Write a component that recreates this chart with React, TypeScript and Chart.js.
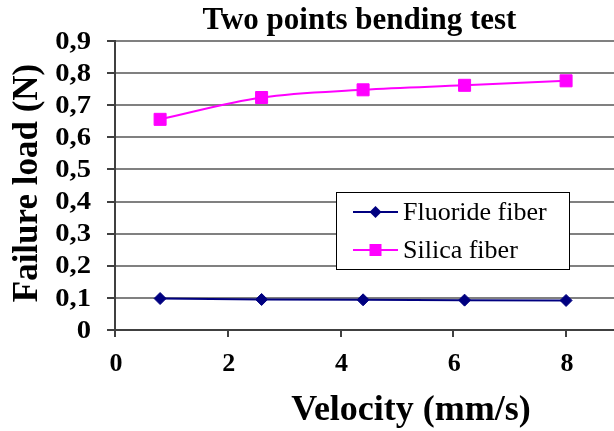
import React, { useEffect, useRef } from "react";
import { Chart, registerables } from "chart.js";

Chart.register(...registerables);

const chartTitle = "Two points bending test";
const xAxisTitle = "Velocity (mm/s)";
const yAxisTitle = "Failure load (N)";

const velocities = [0.8, 2.6, 4.4, 6.2, 8.0];
const fluorideLoads = [0.098, 0.095, 0.094, 0.093, 0.092];
const silicaLoads = [0.656, 0.724, 0.748, 0.762, 0.776];

const seriesNames = ["Fluoride fiber", "Silica fiber"];

const xTicks = [0, 2, 4, 6, 8];
const yTicks = [0, 0.1, 0.2, 0.3, 0.4, 0.5, 0.6, 0.7, 0.8, 0.9];

const SERIF = "'Liberation Serif', 'Times New Roman', serif";

const fmtY = (v: number) => (v === 0 ? "0" : v.toFixed(1).replace(".", ","));

const decorPlugin = {
  id: "decor",
  afterDraw(chart: any) {
    const ctx = chart.ctx as CanvasRenderingContext2D;
    const area = chart.chartArea;
    const xs = chart.scales.x;
    const ys = chart.scales.y;
    ctx.save();
    ctx.fillStyle = "#000";

    // tick labels
    ctx.font = `bold 26px ${SERIF}`;
    ctx.textAlign = "right";
    ctx.textBaseline = "middle";
    yTicks.forEach((v) => {
      ctx.save();
      ctx.translate(91, ys.getPixelForValue(v) + 1);
      ctx.scale(1.1, 1);
      ctx.fillText(fmtY(v), 0, 0);
      ctx.restore();
    });
    ctx.textAlign = "center";
    ctx.textBaseline = "alphabetic";
    xTicks.forEach((v) => {
      ctx.fillText(String(v), xs.getPixelForValue(v) + 1, 371);
    });

    // main title
    ctx.font = `bold 31px ${SERIF}`;
    ctx.textAlign = "center";
    ctx.textBaseline = "alphabetic";
    ctx.fillText(chartTitle, (area.left + area.right) / 2 - 5, 29);
    // x title
    ctx.font = `bold 36px ${SERIF}`;
    ctx.fillText(xAxisTitle, 411, 420);
    // y title
    ctx.save();
    ctx.translate(37, 183);
    ctx.rotate(-Math.PI / 2);
    ctx.font = `bold 35px ${SERIF}`;
    ctx.fillText(yAxisTitle, 0, 0);
    ctx.restore();

    // legend box
    const bx = 336, by = 192, bw = 233, bh = 77;
    ctx.fillStyle = "#fff";
    ctx.fillRect(bx, by, bw, bh);
    ctx.strokeStyle = "#000";
    ctx.lineWidth = 1;
    ctx.strokeRect(bx + 0.5, by + 0.5, bw, bh);
    const rows = [212, 250];
    chart.data.datasets.forEach((ds: any, i: number) => {
      const y = rows[i];
      ctx.strokeStyle = ds.borderColor;
      ctx.lineWidth = 2;
      ctx.beginPath();
      ctx.moveTo(353, y);
      ctx.lineTo(398, y);
      ctx.stroke();
      ctx.fillStyle = ds.pointBackgroundColor;
      if (ds.pointStyle === "rect") {
        ctx.fillRect(375.5 - 6, y - 6, 12, 12);
      } else {
        ctx.beginPath();
        ctx.moveTo(375.5, y - 6);
        ctx.lineTo(381.5, y);
        ctx.lineTo(375.5, y + 6);
        ctx.lineTo(369.5, y);
        ctx.closePath();
        ctx.fill();
      }
      ctx.fillStyle = "#000";
      ctx.font = `26px ${SERIF}`;
      ctx.textAlign = "left";
      ctx.textBaseline = "middle";
      ctx.fillText(ds.label, 403, y + 1);
    });
    ctx.restore();
  },
};

export default function App() {
  const ref = useRef<HTMLCanvasElement | null>(null);
  useEffect(() => {
    if (!ref.current) return;
    const chart = new Chart(ref.current, {
      type: "line",
      data: {
        datasets: [
          {
            label: seriesNames[0],
            data: velocities.map((x, i) => ({ x, y: fluorideLoads[i] })),
            borderColor: "#000080",
            backgroundColor: "#000080",
            pointBackgroundColor: "#000080",
            pointBorderColor: "#000080",
            pointStyle: "rectRot",
            pointRadius: 6,
            pointBorderWidth: 1,
            borderWidth: 2,
            tension: 0,
          },
          {
            label: seriesNames[1],
            data: velocities.map((x, i) => ({ x, y: silicaLoads[i] })),
            borderColor: "#FF00FF",
            backgroundColor: "#FF00FF",
            pointBackgroundColor: "#FF00FF",
            pointBorderColor: "#FF00FF",
            pointStyle: "rect",
            pointRadius: 8.5,
            pointBorderWidth: 1,
            borderWidth: 2,
            tension: 0.35,
          },
        ],
      },
      options: {
        animation: false,
        responsive: false,
        devicePixelRatio: 1,
        layout: { autoPadding: false, padding: { top: 41, right: 0, left: 0, bottom: 0 } },
        plugins: {
          legend: { display: false },
          title: { display: false },
          tooltip: { enabled: false },
        },
        scales: {
          x: {
            type: "linear",
            min: 0,
            max: 8.85,
            afterBuildTicks: (s: any) => {
              s.ticks = xTicks.map((v) => ({ value: v }));
            },
            afterFit: (s: any) => {
              s.height = 101;
              s.paddingLeft = 0;
              s.paddingRight = 0;
            },
            grid: {
              drawOnChartArea: false,
              drawTicks: true,
              tickLength: 7,
              color: "#404040",
              lineWidth: 2,
            },
            border: { color: "#404040", width: 2 },
            ticks: { display: false },
          },
          y: {
            type: "linear",
            min: 0,
            max: 0.9,
            afterBuildTicks: (s: any) => {
              s.ticks = yTicks.map((v) => ({ value: v }));
            },
            afterFit: (s: any) => {
              s.width = 115;
            },
            grid: {
              color: "#808080",
              lineWidth: 2,
              tickLength: 8,
              tickColor: "#404040",
            },
            border: { color: "#404040", width: 2 },
            ticks: { display: false },
          },
        },
      },
      plugins: [decorPlugin],
    });
    return () => chart.destroy();
  }, []);
  return (
    <div style={{ position: "absolute", left: 0, top: 0, width: 614, height: 431, background: "#fff" }}>
      <canvas ref={ref} width={614} height={431} style={{ width: 614, height: 431 }} />
    </div>
  );
}
